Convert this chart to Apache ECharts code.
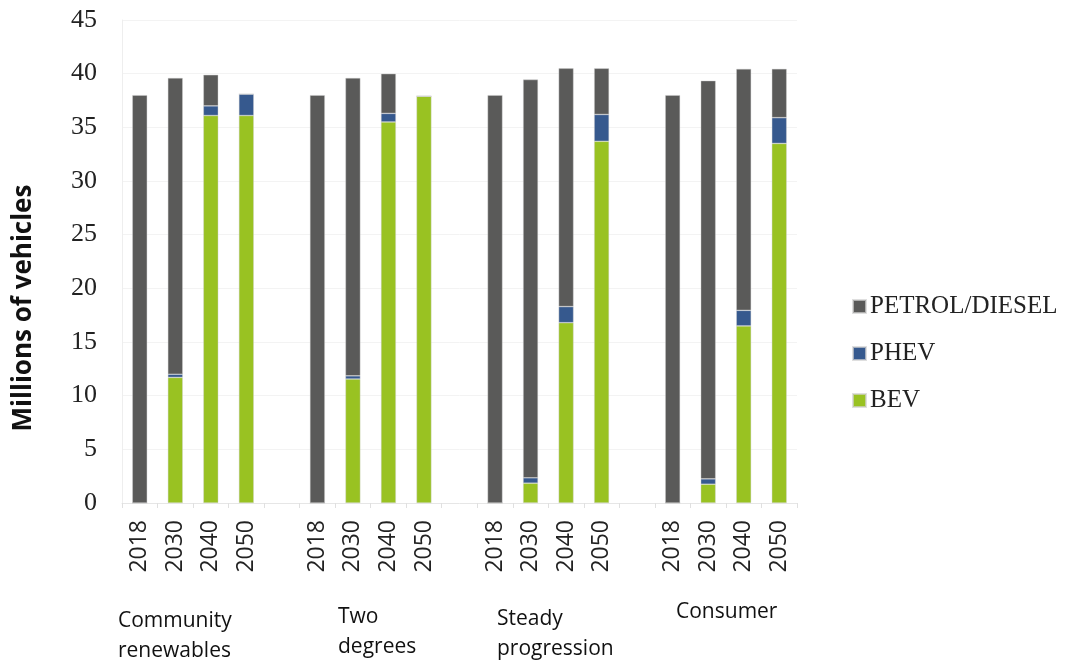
<!DOCTYPE html>
<html>
<head>
<meta charset="utf-8">
<script src="https://cdn.jsdelivr.net/npm/echarts@6/dist/echarts.min.js"></script>
<style>html,body{margin:0;padding:0;background:#fff}#c{width:1067px;height:663px}</style>
</head>
<body>
<div id="c"></div>
<script>
const years = ['2018', '2030', '2040', '2050'];
const groups = ['Community\nrenewables', 'Two\ndegrees', 'Steady\nprogression', 'Consumer'];
// values per group, in year order (millions of vehicles)
const bev = [
  [0, 11.7, 36.1, 36.1],
  [0, 11.55, 35.5, 37.9],
  [0, 1.85, 16.8, 33.7],
  [0, 1.75, 16.5, 33.5]
];
const phev = [
  [0, 0.3, 0.9, 2.0],
  [0, 0.3, 0.8, 0],
  [0, 0.5, 1.5, 2.5],
  [0, 0.5, 1.45, 2.4]
];
const petrol = [
  [38.0, 27.6, 2.9, 0],
  [38.0, 27.75, 3.7, 0],
  [38.0, 37.1, 22.2, 4.3],
  [38.0, 37.1, 22.5, 4.55]
];
const yTicks = [0, 5, 10, 15, 20, 25, 30, 35, 40, 45];

// build category list with blank spacer categories between groups
const cats = [];
function flat(arr) {
  const out = [];
  arr.forEach((g, i) => {
    g.forEach(v => out.push(v));
    if (i < arr.length - 1) out.push(null);
  });
  return out;
}
groups.forEach((g, i) => {
  years.forEach(y => cats.push(y));
  if (i < groups.length - 1) cats.push(' ');
});

const chart = echarts.init(document.getElementById('c'));
const barW = 15;
const border = {borderColor: 'rgba(210,210,210,0.7)', borderWidth: 0.6};
chart.setOption({
  animation: false,
  grid: {left: 122, right: 270, top: 20, bottom: 160},
  legend: {
    orient: 'vertical', left: 847, top: 289, itemGap: 22,
    itemWidth: 13, itemHeight: 13, icon: 'rect',
    data: ['PETROL/DIESEL', 'PHEV', 'BEV'],
    textStyle: {fontFamily: 'Liberation Serif', fontSize: 25, color: '#222', padding: [0, 0, 0, -1]}
  },
  xAxis: {
    type: 'category', data: cats,
    axisLine: {lineStyle: {color: '#e6e6e6'}},
    axisTick: {show: true, length: 5, lineStyle: {color: '#e0e0e0'}},
    axisLabel: {rotate: 90, fontFamily: 'Open Sans', fontSize: 23, color: '#222', margin: 17, interval: 0}
  },
  yAxis: {
    type: 'value', min: 0, max: 45, interval: 5,
    axisLine: {show: true, lineStyle: {color: '#eeeeee'}},
    axisTick: {show: false},
    splitLine: {lineStyle: {color: '#f3f3f3'}},
    axisLabel: {fontFamily: 'Liberation Serif', fontSize: 26, color: '#222', margin: 25,
      formatter: v => yTicks.includes(v) ? String(v) : ''}
  },
  series: [
    {name: 'BEV', type: 'bar', stack: 's', barWidth: barW, data: flat(bev), itemStyle: Object.assign({color: '#99c222'}, border)},
    {name: 'PHEV', type: 'bar', stack: 's', barWidth: barW, data: flat(phev), itemStyle: Object.assign({color: '#36598e'}, border)},
    {name: 'PETROL/DIESEL', type: 'bar', stack: 's', barWidth: barW, data: flat(petrol), itemStyle: Object.assign({color: '#5a5a59'}, border)}
  ],
  graphic: [
    {type: 'text', x: 24, y: 308, rotation: Math.PI / 2,
      style: {text: 'Millions of vehicles', font: 'bold 26px "Open Sans"', fill: '#111', align: 'center', verticalAlign: 'middle'}},
    {type: 'text', left: 118, top: 606, style: {text: groups[0], font: '21px "Open Sans"', fill: '#111', lineHeight: 30}},
    {type: 'text', left: 338, top: 602, style: {text: groups[1], font: '21px "Open Sans"', fill: '#111', lineHeight: 30}},
    {type: 'text', left: 497, top: 604, style: {text: groups[2], font: '21px "Open Sans"', fill: '#111', lineHeight: 30}},
    {type: 'text', left: 676, top: 597, style: {text: groups[3], font: '21px "Open Sans"', fill: '#111', lineHeight: 30}}
  ]
});
</script>
</body>
</html>
